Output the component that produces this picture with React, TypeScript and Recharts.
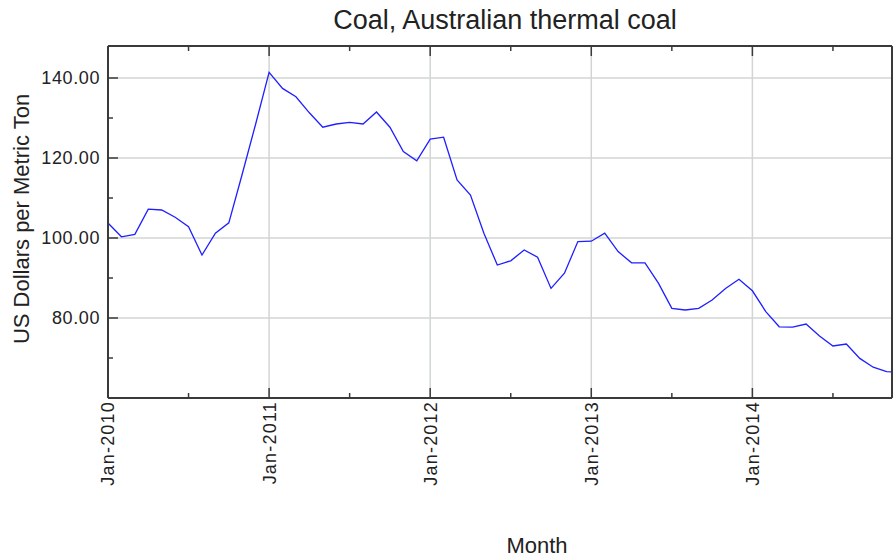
import React from 'react';
import { LineChart, Line, XAxis, YAxis, ReferenceLine } from 'recharts';

// monthly prices, Jan-2010 .. Dec-2014
const prices2010 = [103.75, 100.3, 100.9, 107.2, 107.0, 105.2, 102.8, 95.75, 101.2, 103.8, 116.0, 128.5];
const prices2011 = [141.4, 137.4, 135.3, 131.3, 127.7, 128.5, 128.9, 128.5, 131.5, 127.7, 121.6, 119.3];
const prices2012 = [124.7, 125.2, 114.5, 110.75, 101.2, 93.25, 94.3, 97.0, 95.2, 87.4, 91.2, 99.1];
const prices2013 = [99.2, 101.2, 96.6, 93.8, 93.8, 88.7, 82.4, 82.0, 82.4, 84.5, 87.4, 89.7];
const prices2014 = [86.8, 81.6, 77.8, 77.7, 78.5, 75.5, 73.0, 73.5, 69.9, 67.7, 66.6, 66.4];

const yearLabels = ['Jan-2010', 'Jan-2011', 'Jan-2012', 'Jan-2013', 'Jan-2014'];
const xMajor = [0, 12, 24, 36, 48];
const xMinor = [6, 18, 30, 42, 54];
const yMajor = [80, 100, 120, 140];
const yMinor = [70, 90, 110, 130];

const prices = [...prices2010, ...prices2011, ...prices2012, ...prices2013, ...prices2014];
const data = prices.map((price, idx) => ({ idx, price }));

const FONT = '"Liberation Sans", Arial, sans-serif';
const FRAME = '#3a3a3a';
const GRID = '#d2d6d2';

const xTicks = [...xMajor, ...xMinor].sort((a, b) => a - b);
const yTicks = [...yMajor, ...yMinor].sort((a, b) => a - b);

const BottomTick = (props: any) => {
  const { x, y, payload } = props;
  const i = xMajor.indexOf(payload.value);
  const len = i >= 0 ? 10 : 5;
  return (
    <g>
      <line x1={x} y1={y} x2={x} y2={y - len} stroke={FRAME} strokeWidth={1.5} />
      {i >= 0 && (
        <text
          transform={`translate(${x},${y + 3}) rotate(-90)`}
          textAnchor="end"
          dy="0.36em"
          fontSize={18}
          letterSpacing={1.2}
          fontFamily={FONT}
          fill="#222"
        >
          {yearLabels[i]}
        </text>
      )}
    </g>
  );
};

const TopTick = (props: any) => {
  const { x, y, payload } = props;
  const len = xMajor.includes(payload.value) ? 10 : 5;
  return <line x1={x} y1={y} x2={x} y2={y + len} stroke={FRAME} strokeWidth={1.5} />;
};

const LeftTick = (props: any) => {
  const { x, y, payload } = props;
  const major = yMajor.includes(payload.value);
  return (
    <g>
      <line x1={x} y1={y} x2={x + (major ? 10 : 5)} y2={y} stroke={FRAME} strokeWidth={1.5} />
      {major && (
        <text x={x - 8} y={y} dy="0.36em" textAnchor="end" fontSize={18} letterSpacing={0.6} fontFamily={FONT} fill="#222">
          {payload.value.toFixed(2)}
        </text>
      )}
    </g>
  );
};

const RightTick = (props: any) => {
  const { x, y, payload } = props;
  const len = yMajor.includes(payload.value) ? 10 : 5;
  return <line x1={x} y1={y} x2={x - len} y2={y} stroke={FRAME} strokeWidth={1.5} />;
};

export default function App() {
  return (
    <div style={{ position: 'absolute', left: 0, top: 0, width: 893, height: 558, background: '#fff', fontFamily: FONT }}>
      <LineChart width={893} height={558} data={data} margin={{ top: 0, right: 0, bottom: 0, left: 0 }}>
        <XAxis
          xAxisId="b"
          dataKey="idx"
          type="number"
          domain={[0, 58.4]}
          allowDataOverflow
          ticks={xTicks}
          interval={0}
          tick={<BottomTick />}
          tickSize={0}
          tickMargin={0}
          tickLine={false}
          axisLine={{ stroke: FRAME, strokeWidth: 2 }}
          height={160}
        />
        <XAxis
          xAxisId="t"
          orientation="top"
          dataKey="idx"
          type="number"
          domain={[0, 58.4]}
          allowDataOverflow
          ticks={xTicks}
          interval={0}
          tick={<TopTick />}
          tickSize={0}
          tickMargin={0}
          tickLine={false}
          axisLine={{ stroke: FRAME, strokeWidth: 2 }}
          height={46}
        />
        <YAxis
          yAxisId="l"
          domain={[60, 148]}
          ticks={yTicks}
          interval={0}
          tick={<LeftTick />}
          tickSize={0}
          tickMargin={0}
          tickLine={false}
          axisLine={{ stroke: FRAME, strokeWidth: 2 }}
          width={108}
        />
        <YAxis
          yAxisId="r"
          orientation="right"
          domain={[60, 148]}
          ticks={yTicks}
          interval={0}
          tick={<RightTick />}
          tickSize={0}
          tickMargin={0}
          tickLine={false}
          axisLine={{ stroke: FRAME, strokeWidth: 2 }}
          width={1}
        />
        {yMajor.map((v) => (
          <ReferenceLine key={`h${v}`} xAxisId="b" yAxisId="l" y={v} stroke={GRID} strokeWidth={1.5} />
        ))}
        {xMajor.slice(1).map((v) => (
          <ReferenceLine key={`v${v}`} xAxisId="b" yAxisId="l" x={v} stroke={GRID} strokeWidth={1.5} />
        ))}
        <Line
          xAxisId="b"
          yAxisId="l"
          type="linear"
          dataKey="price"
          stroke="#1f1fff"
          strokeWidth={1.3}
          dot={false}
          isAnimationActive={false}
        />
      </LineChart>
      <div style={{ position: 'absolute', left: 505, top: 20, transform: 'translate(-50%,-50%)', fontSize: 27, color: '#222', whiteSpace: 'nowrap' }}>
        Coal, Australian thermal coal
      </div>
      <div style={{ position: 'absolute', left: 22, top: 219, transform: 'translate(-50%,-50%) rotate(-90deg)', fontSize: 22, color: '#222', whiteSpace: 'nowrap' }}>
        US Dollars per Metric Ton
      </div>
      <div style={{ position: 'absolute', left: 537, top: 546, transform: 'translate(-50%,-50%)', fontSize: 22, color: '#222', whiteSpace: 'nowrap' }}>
        Month
      </div>
    </div>
  );
}
